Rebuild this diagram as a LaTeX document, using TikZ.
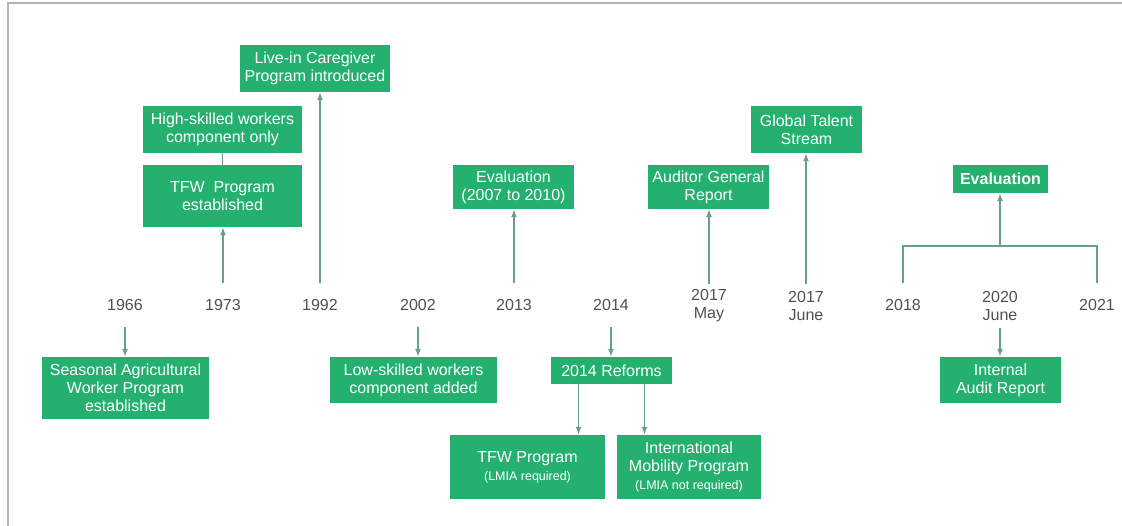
\documentclass[tikz,border=0pt]{standalone}
\usepackage{fontspec}
\setmainfont{Liberation Sans}
\usepackage{xcolor}
\usetikzlibrary{calc,arrows.meta}

\definecolor{boxgreen}{RGB}{36,176,110}
\definecolor{linkteal}{RGB}{100,160,142}
\definecolor{yeargray}{RGB}{80,80,80}
\definecolor{framegray}{RGB}{180,180,180}

\begin{document}
\begin{tikzpicture}[x=1pt,y=-1pt]
        \tikzstyle{every node}=[inner sep=0pt, align=center]
        \tikzstyle{year}=[text=yeargray, minimum height=44pt, font=\fontsize{16}{18}\selectfont]
        \tikzstyle{event}=[fill=boxgreen, text=white, font=\fontsize{16}{18}\selectfont]
        \tikzstyle{link}=[draw=linkteal, line width=1.5pt]
        \tikzstyle{arr}=[link, -{Latex[length=8pt,width=6pt]}]
        \newcommand{\note}[1]{{\fontsize{12.5}{15}\selectfont #1}}

        \useasboundingbox (0,0) rectangle (1122,526);
        \draw[framegray, line width=1.6pt] (8,526) -- (8,3) -- (1122,3);

        % years
        \node[year] (1966) at (125,305) {1966};
        \node[year] (1973) at (223,305) {1973};
        \node[year] (1992) at (320,305) {1992};
        \node[year] (2002) at (418,305) {2002};
        \node[year] (2013) at (514,305) {2013};
        \node[year] (2014) at (611,305) {2014};
        \node[year] (2017a) at (709,306) {2017\\May};
        \node[year] (2017b) at (806,306) {2017\\June};
        \node[year] (2018) at (903,305) {2018};
        \node[year] (2020) at (1000,306) {2020\\June};
        \node[year] (2021) at (1097,305) {2021};

        % events above
        \node[event, minimum width=159pt, minimum height=47pt] (73a) at (222.5,129.5) {High-skilled workers\\component only};
        \node[event, minimum width=159pt, minimum height=62pt] (73b) at (222.5,196) {TFW\ \ Program\\established};
        \node[event, minimum width=150pt, minimum height=47pt] (92a) at (315,68.5) {Live-in Caregiver\\Program introduced};
        \node[event, minimum width=121pt, minimum height=44pt] (13a) at (513.5,187) {Evaluation\\(2007 to 2010)};
        \node[event, minimum width=121pt, minimum height=44pt] (17a) at (708.5,187) {Auditor General\\Report};
        \node[event, minimum width=111pt, minimum height=47pt] (17b) at (806.5,129.5) {Global Talent\\Stream};
        \node[event, minimum width=95pt, minimum height=28pt, font=\fontsize{16}{18}\selectfont\bfseries] (21a) at (1000.5,179) {Evaluation};

        % events below
        \node[event, minimum width=167pt, minimum height=62pt] (66a) at (125.5,388) {Seasonal Agricultural\\Worker Program\\established};
        \node[event, minimum width=167pt, minimum height=46pt] (02a) at (413.5,380) {Low-skilled workers\\component added};
        \node[event, minimum width=121pt, minimum height=27pt] (14a) at (611.5,370.5) {2014 Reforms};
        \node[event, minimum width=155pt, minimum height=64pt] (14b) at (527.5,467) {TFW Program\\\note{(LMIA required)}};
        \node[event, minimum width=144pt, minimum height=64pt] (14c) at (689,467) {International\\Mobility Program\\\note{(LMIA not required)}};
        \node[event, minimum width=121pt, minimum height=46pt] (20a) at (1000.5,380) {Internal\\Audit Report};

        \draw[link] (73b) to (73a);
        \draw[arr] (1973.north) to (1973.north |- 73b.south);
        \draw[arr] (1992.north) to (1992.north |- 92a.south);
        \draw[arr] (2013.north) to (2013.north |- 13a.south);
        \draw[arr] (2017a.north) to (2017a.north |- 17a.south);
        \draw[arr] (2017b.north) to (2017b.north |- 17b.south);

        \coordinate (brk) at (1000,246);
        \draw[link] (2018.north) |- (brk) -| (2021.north);
        \draw[arr] (brk) to (brk |- 21a.south);

        \draw[arr] (1966.south) to (1966.south |- 66a.north);
        \draw[arr] (2002.south) to (2002.south |- 02a.north);
        \draw[arr] (2014.south) to (2014.south |- 14a.north);
        \coordinate (r1) at ($(14a.south)+(-33,0)$);
        \coordinate (r2) at ($(14a.south)+(33,0)$);
        \draw[arr] (r1) to (r1 |- 14b.north);
        \draw[arr] (r2) to (r2 |- 14c.north);
        \draw[arr] (2020.south) to (2020.south |- 20a.north);
    \end{tikzpicture}
\end{document}
